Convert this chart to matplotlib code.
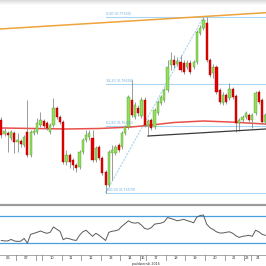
import matplotlib
matplotlib.use("Agg")
import matplotlib.pyplot as plt
import numpy as np

# ---------------- data (4H candles, October 2016) ----------------
opens = [0.7630,0.7616,0.7617,0.7612,0.7617,0.7608,0.7609,0.7605,0.7618,0.7595,
         0.7617,0.7618,0.7625,0.7629,0.7627,0.7618,0.7625,0.7642,0.7633,0.7628,
         0.7588,0.7595,0.7590,0.7585,0.7583,0.7598,0.7610,0.7613,0.7612,0.7590,
         0.7603,0.7592,0.7578,0.7565,0.7597,0.7597,0.7605,0.7603,0.7617,0.7623,
         0.7650,0.7633,0.7642,0.7634,0.7650,0.7624,0.7630,0.7623,0.7637,0.7647,
         0.7650,0.7660,0.7685,0.7690,0.7686,0.7688,0.7687,0.7683,0.7687,0.7683,
         0.7688,0.7717,0.7722,0.7727,0.7690,0.7677,0.7683,0.7660,0.7647,0.7655,
         0.7652,0.7661,0.7654,0.7627,0.7630,0.7633,0.7635,0.7630,0.7637,0.7658,
         0.7650,0.7628]
highs = [0.7633,0.7622,0.7619,0.7620,0.7619,0.7617,0.7611,0.7615,0.7650,0.7620,
         0.7621,0.7632,0.7638,0.7631,0.7629,0.7627,0.7652,0.7644,0.7635,0.7630,
         0.7600,0.7597,0.7592,0.7587,0.7600,0.7612,0.7620,0.7620,0.7620,0.7604,
         0.7605,0.7594,0.7580,0.7600,0.7605,0.7605,0.7607,0.7619,0.7625,0.7655,
         0.7670,0.7648,0.7645,0.7653,0.7653,0.7631,0.7632,0.7642,0.7650,0.7655,
         0.7662,0.7690,0.7698,0.7695,0.7693,0.7695,0.7690,0.7690,0.7690,0.7690,
         0.7720,0.7725,0.7733,0.7733,0.7692,0.7686,0.7685,0.7662,0.7658,0.7657,
         0.7667,0.7663,0.7656,0.7632,0.7635,0.7639,0.7637,0.7637,0.7659,0.7660,
         0.7652,0.7637]
lows = [0.7612,0.7614,0.7598,0.7610,0.7597,0.7598,0.7603,0.7603,0.7593,0.7593,
        0.7615,0.7616,0.7623,0.7622,0.7620,0.7616,0.7623,0.7631,0.7626,0.7586,
        0.7585,0.7582,0.7580,0.7578,0.7581,0.7596,0.7608,0.7610,0.7588,0.7588,
        0.7590,0.7575,0.7557,0.7563,0.7570,0.7595,0.7598,0.7601,0.7615,0.7621,
        0.7633,0.7631,0.7634,0.7632,0.7623,0.7614,0.7620,0.7621,0.7635,0.7645,
        0.7648,0.7658,0.7680,0.7682,0.7684,0.7678,0.7676,0.7681,0.7676,0.7681,
        0.7686,0.7715,0.7720,0.7688,0.7673,0.7672,0.7656,0.7646,0.7645,0.7646,
        0.7650,0.7651,0.7618,0.7619,0.7628,0.7631,0.7628,0.7622,0.7635,0.7646,
        0.7626,0.7626]
closes = [0.7615,0.7619,0.7615,0.7618,0.7608,0.7610,0.7606,0.7613,0.7595,0.7618,
          0.7619,0.7627,0.7630,0.7624,0.7622,0.7625,0.7642,0.7633,0.7628,0.7588,
          0.7595,0.7588,0.7585,0.7582,0.7598,0.7610,0.7615,0.7617,0.7590,0.7602,
          0.7592,0.7577,0.7565,0.7598,0.7600,0.7603,0.7600,0.7617,0.7623,0.7653,
          0.7635,0.7645,0.7637,0.7650,0.7625,0.7629,0.7622,0.7640,0.7648,0.7653,
          0.7660,0.7683,0.7690,0.7685,0.7689,0.7680,0.7678,0.7687,0.7678,0.7688,
          0.7718,0.7722,0.7730,0.7690,0.7675,0.7683,0.7658,0.7648,0.7655,0.7648,
          0.7661,0.7653,0.7627,0.7630,0.7633,0.7637,0.7630,0.7635,0.7657,0.7648,
          0.7628,0.7635]
rsi = [34.4,33.7,33.7,35.9,33.7,33.0,33.4,37.4,30.4,43.3,
       44.8,46.3,48.2,46.3,44.8,46.3,54.1,50.7,47.8,35.5,
       37.9,36.7,35.2,34.4,41.9,47.0,49.3,44.8,40.4,44.8,
       41.9,38.1,34.4,46.3,47.8,48.5,50.0,55.2,58.9,63.0,
       60.4,59.6,60.4,56.7,51.8,50.7,53.0,58.1,58.9,59.6,
       61.6,67.8,66.3,64.8,63.0,64.1,65.1,63.3,61.9,60.1,
       68.5,70.7,71.5,58.1,53.0,50.3,47.0,45.3,45.3,46.3,
       47.0,44.8,41.1,38.9,40.4,41.1,41.9,40.4,49.3,47.0,
       43.3,41.9]
ma_idx = [0, 10, 20, 30, 40, 46, 53, 62, 70, 81]
ma_val = [0.7622, 0.76215, 0.7621, 0.76215, 0.7623, 0.7625, 0.76275, 0.7629, 0.7628, 0.7626]

fib_start = 32           # swing low candle
fib_end = 62             # swing high candle
fib_pcts = [0.0, 38.2, 61.8, 100.0]
fib_labels = ["0,00 (0,77330)", "38,20 (0,76658)", "61,80 (0,76242)", "100,00 (0,75570)"]
fib_high = 0.7733
fib_low = 0.7557

orange_x = [-0.4, 81.2]
orange_y = [0.7721, 0.77373]
black_x = [45, 81.2]
black_y = [0.7614, 0.7621]

day_labels = ["06", "07", "", "10", "11", "12", "13", "14", "16", "17", "18", "19", "20", "21", "23", "24"]
day_bounds = [-0.4, 4.5, 10.5, 12.5, 18.5, 24.5, 30.5, 36.5, 42.5, 44.5, 50.5, 56.5, 62.5, 68.5, 74.5, 76.5, 81.2]
month_label = "październik 2016"

# ---------------- figure ----------------
W = H = 266
fig = plt.figure(figsize=(W / 100, H / 100), dpi=100)
fig.patch.set_facecolor("white")

def fy(px):
    return 1 - px / H

XL = (-0.4, 81.2)

# top gradient band
axg = fig.add_axes([0, fy(5), 1, 5 / H])
grad = np.linspace(0.85, 1.0, 20).reshape(-1, 1)
axg.imshow(grad, cmap="gray", vmin=0, vmax=1, aspect="auto", extent=[0, 1, 0, 1])
axg.set_axis_off()

# main chart
ax = fig.add_axes([0, fy(203), 1, 198 / H])
ax.set_xlim(*XL)
ax.set_ylim(0.7547, 0.7745)
ax.set_axis_off()

idx = np.arange(len(opens))
o = np.array(opens); c = np.array(closes); h = np.array(highs); l = np.array(lows)
up = c >= o
ax.vlines(idx, l, h, color="#8a8a8a", lw=0.6, zorder=3)
bw = 0.68
ax.bar(idx[up], (c - o)[up], bottom=o[up], width=bw, color="#94de5c",
       edgecolor="#4e9a2e", linewidth=0.3, zorder=4)
ax.bar(idx[~up], (o - c)[~up], bottom=c[~up], width=bw, color="#e80000",
       edgecolor="#a00000", linewidth=0.3, zorder=4)

# moving average
ax.plot(ma_idx, ma_val, color="#e8504a", lw=1.1, zorder=2)

# fibonacci retracement
fib_rng = fib_high - fib_low
for p, lab in zip(fib_pcts, fib_labels):
    lvl = fib_high - p / 100 * fib_rng
    ax.plot([fib_start, XL[1]], [lvl, lvl], color="#a9d6f2", lw=0.8, zorder=1)
    ax.text(fib_start + 0.1, lvl + 0.00012, lab, fontsize=2.4, color="#6fb0e0",
            ha="left", va="bottom", zorder=6)
ax.plot([fib_start, fib_end], [fib_low, fib_high], color="#a9d6f2", lw=0.8,
        ls=(0, (2, 1)), zorder=1)

# trend lines
ax.plot(orange_x, orange_y, color="#eea43a", lw=1.1, zorder=5)
ax.plot(black_x, black_y, color="#3a3a3a", lw=0.9, zorder=5)

# separator
fig.add_artist(plt.Line2D([0, 1], [fy(205), fy(205)], color="#9b9b9b", lw=1.6))

# RSI panel
axr = fig.add_axes([0, fy(252), 1, 45 / H])
axr.set_xlim(*XL)
axr.set_ylim(17.6, 83.1)
axr.set_axis_off()
axr.axhline(70, color="#4a9edb", lw=0.9)
axr.axhline(30, color="#4a9edb", lw=0.9)
axr.plot(idx, rsi, color="#5a5a5a", lw=0.7)

# date strip
axd = fig.add_axes([0, fy(261), 1, 6 / H])
axd.set_xlim(*XL)
axd.set_ylim(0, 1)
axd.set_axis_off()
axd.axhline(1, color="#9a9a9a", lw=0.6)
axd.axhline(0, color="#9a9a9a", lw=0.6)
for b in day_bounds[1:-1]:
    axd.axvline(b, color="#7a7a7a", lw=0.5)
for lab, a, b in zip(day_labels, day_bounds[:-1], day_bounds[1:]):
    if lab:
        axd.text((a + b) / 2, 0.5, lab, fontsize=2.6, color="#333333",
                 ha="center", va="center")
axd.text(44.5, -0.45, month_label, fontsize=2.3, color="#333333",
         ha="center", va="center")

fig.savefig("out.png", dpi=100, facecolor="white")
